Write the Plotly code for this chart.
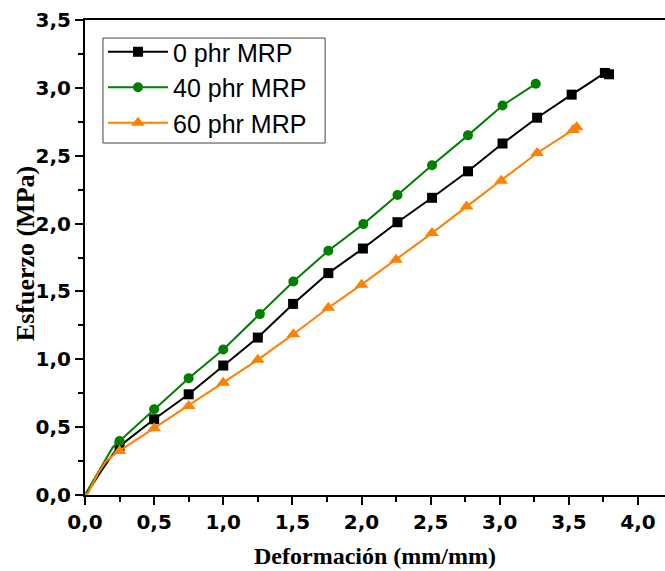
import plotly.graph_objects as go

# Deformación (mm/mm) and Esfuerzo (MPa)
x_0phr = [0.0, 0.05, 0.10, 0.15, 0.20, 0.25, 0.50, 0.75, 1.0, 1.25, 1.505, 1.76, 2.01, 2.26, 2.51, 2.77, 3.02, 3.27, 3.52, 3.76, 3.79]
y_0phr = [0.0, 0.07, 0.15, 0.23, 0.30, 0.36, 0.558, 0.742, 0.954, 1.16, 1.408, 1.635, 1.816, 2.01, 2.19, 2.385, 2.59, 2.78, 2.95, 3.11, 3.10]
first_marker_0phr = 5

x_40phr = [0.0, 0.05, 0.10, 0.15, 0.20, 0.25, 0.50, 0.75, 1.0, 1.265, 1.507, 1.76, 2.013, 2.26, 2.51, 2.77, 3.02, 3.26]
y_40phr = [0.0, 0.09, 0.18, 0.27, 0.35, 0.398, 0.632, 0.861, 1.072, 1.333, 1.573, 1.80, 1.996, 2.21, 2.43, 2.65, 2.87, 3.03]
first_marker_40phr = 5

x_60phr = [0.0, 0.02, 0.05, 0.10, 0.15, 0.20, 0.25, 0.50, 0.75, 1.0, 1.25, 1.507, 1.76, 2.0, 2.25, 2.51, 2.76, 3.01, 3.27, 3.53, 3.556]
y_60phr = [0.01, 0.01, 0.07, 0.17, 0.245, 0.29, 0.325, 0.492, 0.656, 0.828, 0.996, 1.185, 1.38, 1.55, 1.733, 1.93, 2.125, 2.316, 2.52, 2.69, 2.71]
first_marker_60phr = 6

series = [
    ("0 phr MRP", x_0phr, y_0phr, first_marker_0phr, "#000000", "square", 10),
    ("40 phr MRP", x_40phr, y_40phr, first_marker_40phr, "#008000", "circle", 10),
    ("60 phr MRP", x_60phr, y_60phr, first_marker_60phr, "#FF8000", "triangle-up", 12),
]

fig = go.Figure()
for name, xs, ys, k, color, symbol, size in series:
    # initial part of the curve (line only)
    fig.add_trace(go.Scatter(
        x=xs[:k + 1], y=ys[:k + 1], mode="lines", showlegend=False,
        legendgroup=name, line=dict(color=color, width=2), hoverinfo="skip",
    ))
    # marked part of the curve
    fig.add_trace(go.Scatter(
        x=xs[k:], y=ys[k:], name=name, mode="lines+markers", legendgroup=name,
        line=dict(color=color, width=2),
        marker=dict(color=color, symbol=symbol, size=size, line=dict(width=0)),
    ))

tickfont = dict(family="DejaVu Sans", size=20, color="black", weight="bold")
titlefont = dict(family="Liberation Serif", size=24, color="black", weight="bold")

fig.update_layout(
    width=665, height=571,
    margin=dict(l=85, r=0, t=20, b=76),
    paper_bgcolor="white", plot_bgcolor="white",
    separators=",.",
    showlegend=True,
    legend=dict(
        x=0.031, y=0.981, xanchor="left", yanchor="top",
        bgcolor="rgba(0,0,0,0)", borderwidth=0,
        font=dict(family="Liberation Sans", size=25, color="black"),
        itemwidth=60, tracegroupgap=0,
    ),
    shapes=[dict(
        type="rect", xref="paper", yref="paper",
        x0=0.031, x1=0.414, y0=0.741, y1=0.962,
        line=dict(color="#444444", width=1), fillcolor="white", layer="above",
    )],
    xaxis=dict(
        range=[0, 4.195], dtick=0.5, tick0=0, tickformat=".1f",
        showgrid=False, zeroline=False,
        showline=True, linecolor="black", linewidth=2, mirror=True,
        ticks="outside", ticklen=8, tickwidth=2, tickcolor="black",
        minor=dict(dtick=0.25, ticks="outside", ticklen=5, tickwidth=2, tickcolor="black"),
        tickfont=tickfont,
        title=dict(text="Deformación (mm/mm)", font=titlefont, standoff=14),
    ),
    yaxis=dict(
        range=[0, 3.5], dtick=0.5, tick0=0, tickformat=".1f",
        showgrid=False, zeroline=False,
        showline=True, linecolor="black", linewidth=2,
        ticks="outside", ticklen=8, tickwidth=2, tickcolor="black",
        minor=dict(dtick=0.25, ticks="outside", ticklen=5, tickwidth=2, tickcolor="black"),
        tickfont=tickfont,
    ),
    annotations=[dict(
        text="Esfuerzo (MPa)", xref="paper", yref="paper",
        x=-0.1034, y=0.507, xanchor="center", yanchor="middle",
        textangle=-90, showarrow=False,
        font=dict(family="Liberation Serif", size=26, color="black", weight="bold"),
    )],
)

fig.write_html("out.html")
